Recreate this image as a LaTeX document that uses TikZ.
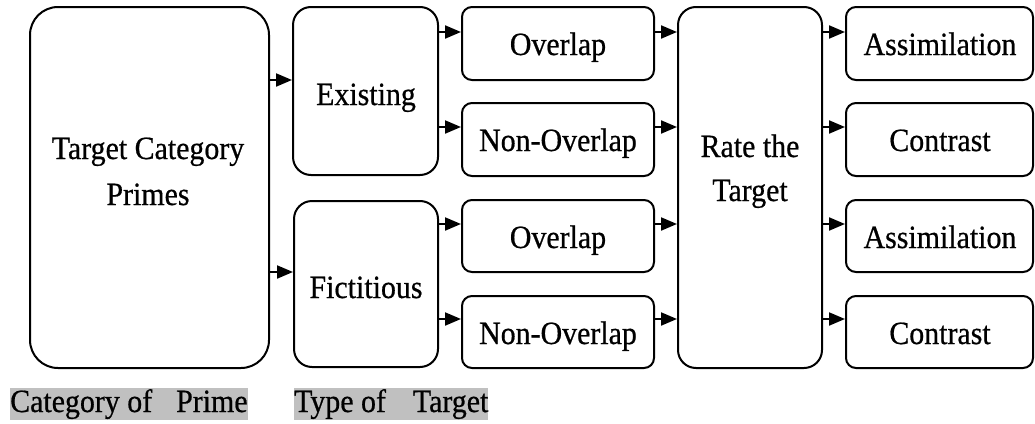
\documentclass[tikz,border=0pt]{standalone}
\usepackage{fontspec}
\setmainfont{Liberation Serif}[FakeStretch=0.92,FakeBold=0.6]
\usetikzlibrary{arrows.meta}
\definecolor{hl}{HTML}{C0C0C0}
\tikzset{
  bx/.style={draw=black, line width=2pt, fill=white, inner sep=0pt},
  txt/.style={anchor=base, inner sep=0pt, font=\fontsize{32.5}{38}\selectfont},
  hlabel/.style={anchor=base west, fill=hl, inner xsep=0pt, inner ysep=0pt,
     text height=24pt, text depth=8pt, font=\fontsize{32.5}{38}\selectfont},
  arr/.style={line width=2pt, -{Triangle[length=16pt,width=13pt]}}
}
\newcommand{\mybox}[6]{%
  \node[bx, rounded corners=#6pt, minimum width={#4-#2}, minimum height={#5-#3}]
    (#1) at ({(#2+#4)/2},{(#3+#5)/2}) {};}
\begin{document}
\begin{tikzpicture}[x=1pt,y=-1pt]
\useasboundingbox (0,0) rectangle (1035,423);
\mybox{prime}{30}{7}{269}{368}{28}
\mybox{exist}{293}{7}{438}{175}{18}
\mybox{fict}{294}{201}{438}{367}{18}
\mybox{ov1}{462}{7}{654}{80}{10}
\mybox{no1}{462}{103}{654}{176}{10}
\mybox{ov2}{462}{200}{654}{272}{10}
\mybox{no2}{462}{296}{654}{368}{10}
\mybox{rate}{678}{7}{822}{368}{18}
\mybox{as1}{846}{7}{1033}{80}{10}
\mybox{co1}{846}{103}{1033}{176}{10}
\mybox{as2}{846}{200}{1033}{272}{10}
\mybox{co2}{846}{296}{1033}{368}{10}

\node[txt] (tprime1) at (148,159) {Target Category};
\node[txt] (tprime2) at (148,205) {Primes};
\node[txt] (texist) at (366,105) {Existing};
\node[txt] (tfict) at (366,298) {Fictitious};
\node[txt] (tov1) at (558,55) {Overlap};
\node[txt] (tno1) at (558,151) {Non-Overlap};
\node[txt] (tov2) at (558,248) {Overlap};
\node[txt] (tno2) at (558,344) {Non-Overlap};
\node[txt] (trate1) at (750,157) {Rate the};
\node[txt] (trate2) at (750,201) {Target};
\node[txt] (tas1) at (940,55) {Assimilation};
\node[txt] (tco1) at (940,151) {Contrast};
\node[txt] (tas2) at (940,248) {Assimilation};
\node[txt] (tco2) at (940,344) {Contrast};

\node[hlabel] (lab1) at (10,412) {Category of\hspace{24pt}Prime\hspace{3pt}};
\node[hlabel] (lab2) at (294,412) {Type of\hspace{27pt}Target};

\coordinate (rA) at (0,80);
\coordinate (rB) at (0,272);
\coordinate (r1) at (0,32);
\coordinate (r2) at (0,127);
\coordinate (r3) at (0,224);
\coordinate (r4) at (0,319);

\draw[arr] (prime.east |- rA) -- (exist.west |- rA);
\draw[arr] (prime.east |- rB) -- (fict.west |- rB);
\draw[arr] (exist.east |- r1) -- (ov1.west |- r1);
\draw[arr] (exist.east |- r2) -- (no1.west |- r2);
\draw[arr] (fict.east |- r3) -- (ov2.west |- r3);
\draw[arr] (fict.east |- r4) -- (no2.west |- r4);
\draw[arr] (ov1.east |- r1) -- (rate.west |- r1);
\draw[arr] (no1.east |- r2) -- (rate.west |- r2);
\draw[arr] (ov2.east |- r3) -- (rate.west |- r3);
\draw[arr] (no2.east |- r4) -- (rate.west |- r4);
\draw[arr] (rate.east |- r1) -- (as1.west |- r1);
\draw[arr] (rate.east |- r2) -- (co1.west |- r2);
\draw[arr] (rate.east |- r3) -- (as2.west |- r3);
\draw[arr] (rate.east |- r4) -- (co2.west |- r4);
\end{tikzpicture}
\end{document}
